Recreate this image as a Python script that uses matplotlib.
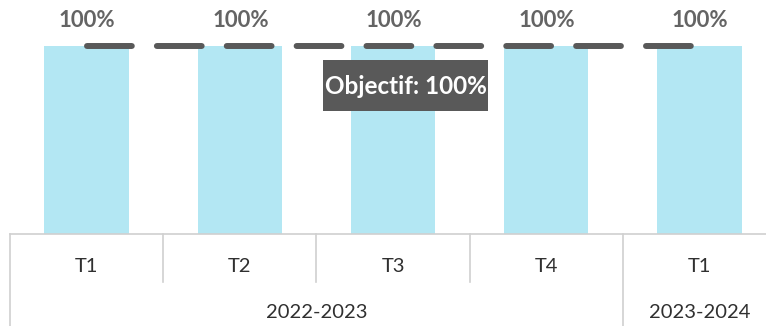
import matplotlib
matplotlib.use('Agg')
import matplotlib.pyplot as plt
from matplotlib.patches import Rectangle

## data
quarters = ['T1', 'T2', 'T3', 'T4', 'T1']
years = ['2022-2023', '2023-2024']
year_sizes = [4, 1]  # <-- number of quarters under each year
rates = [1.0, 1.0, 1.0, 1.0, 1.0]
objective = 1.0

bar_color = '#b3e7f3'
dark = '#595959'
grid = '#d0d0d0'

plt.rcParams['font.family'] = ['Lato', 'DejaVu Sans']

fig = plt.figure(figsize = [7.66, 3.26], dpi = 100)
# axes runs a bit past the right edge so the last category is cut like a cropped export
ax = fig.add_axes([10 / 766, 92 / 326, 766 / 766, 225.6 / 326])

x = list(range(len(rates)))
ax.bar(x, rates, width = .55, color = bar_color, zorder = 1)

##__value labels
for xi, v in zip(x, rates):
    ax.annotate(
        f'{v:.0%}', (xi, v), xytext = (0.5, 18.5), textcoords = 'offset points',
        ha = 'center', va = 'center', fontsize = 16, fontweight = 'bold', color = '#646464',
    )

##__objective line
ax.plot(
    [x[0], x[-1]], [objective, objective],
    color = dark, lw = 4.3, dashes = (7.5, 4.2), dash_capstyle = 'round',
    solid_capstyle = 'round', zorder = 3,
)

##__objective label box
bx, by = 1.546, objective - .346
bw, bh = 1.072, .272
ax.add_patch(Rectangle((bx, by), bw, bh, facecolor = dark, edgecolor = 'none', zorder = 4))
ax.text(
    bx + bw / 2, by + bh / 2 - .005, f'Objectif: {objective:.0%}',
    ha = 'center', va = 'center', color = 'white', fontsize = 17.5, fontweight = 'bold', zorder = 5,
)

ax.set_xlim(-.5, len(rates) - .5)
ax.set_ylim(0, 1.2)
ax.set_xticks([])
ax.set_yticks([])
for side in ['top', 'right', 'left']:
    ax.spines[side].set_visible(False)
ax.spines['bottom'].set_color(grid)
ax.spines['bottom'].set_linewidth(1.2)

##__two level category axis
tr = ax.get_xaxis_transform()
px = 1 / 225.6  # <-- one pixel in axes fraction
row1 = -48 * px
bottom = -92 * px

bounds = [-.5]
for n in year_sizes:
    bounds.append(bounds[-1] + n)

for xi in range(len(quarters) + 1):
    xb = xi - .5
    y_end = bottom if xb in bounds else row1
    ax.plot([xb, xb], [0, y_end], color = grid, lw = 1.2, transform = tr, clip_on = False)

for xi, q in zip(x, quarters):
    ax.text(xi, -32 * px, q, transform = tr, ha = 'center', va = 'center',
            fontsize = 14.5, color = '#303030')

for (b0, b1), yr in zip(zip(bounds[:-1], bounds[1:]), years):
    ax.text((b0 + b1) / 2, -78 * px, yr, transform = tr, ha = 'center', va = 'center',
            fontsize = 14.5, color = '#303030')

plt.savefig('out.png', dpi = 100)
